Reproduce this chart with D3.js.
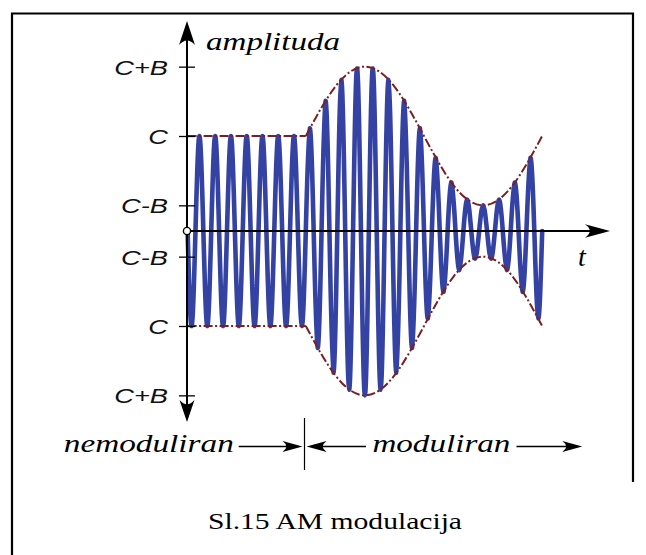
<!DOCTYPE html>
<html>
<head>
<meta charset="utf-8">
<script src="https://cdn.jsdelivr.net/npm/d3@7"></script>
<style>
	body { margin: 0; background: #fff; }
	svg { display: block; }
</style>
</head>
<body>
<svg id="chart"></svg>
<script>
// amplitude levels: C = carrier amplitude, B = modulation depth
const C = 1;
const B = 0.73;
const tickValues = [C + B, C, C - B, -(C - B), -C, -(C + B)];
const tickLabels = ['C+B', 'C', 'C-B', 'C-B', 'C', 'C+B'];

// carrier: 22.5 periods, one amplitude per half period (starts with a trough)
const carrierPeriods = 22.5;
const halfWaveAmp = [
	1, 1, 1, 1, 1, 1, 1, 1, 1, 1, 1, 1, 1, 1, 1,
	1.08, 1.23, 1.37, 1.49, 1.59, 1.67, 1.71, 1.73, 1.71, 1.67, 1.59, 1.49, 1.37, 1.23, 1.08,
	0.92, 0.77, 0.64, 0.51, 0.41, 0.33, 0.29, 0.27, 0.29, 0.33, 0.41, 0.51, 0.64, 0.77, 0.92
];

// envelope (time in carrier periods, amplitude)
const envT = [0, 7.5, 9.375, 11.25, 13.125, 15, 16.875, 18.75, 20.625, 22.5];
const envA = [1, 1, 1.52, 1.73, 1.52, 1, 0.48, 0.27, 0.48, 1];

const yTitle = 'amplituda';
const xTitle = 't';
const sectionLabels = ['nemoduliran', 'moduliran'];
const caption = 'Sl.15 AM modulacija';

function makeChart() {
	let w = 646;
	let h = 555;

	let chart = d3.select('#chart')
		.attr('width', w)
		.attr('height', h);

	let x = d3.scaleLinear()
		.domain([0, carrierPeriods])
		.range([187.6, 542.2]);
	let y = d3.scaleLinear()
		.domain([-1, 1])
		.range([326, 136]);

	let axisX = 187;
	let axisY = y(0);
	let serif = '"Liberation Serif", "Times New Roman", serif';

	// frame
	chart.append('path')
		.attr('d', 'M12,555 V13.5 H633 V482')
		.attr('fill', 'none')
		.attr('stroke', '#000')
		.attr('stroke-width', 2.2);

	function arrowHead(px, py, angle, len, wid) {
		chart.append('path')
			.attr('d', `M0,0 L${-len},${-wid} Q${-0.62 * len},0 ${-len},${wid} Z`)
			.attr('transform', `translate(${px},${py}) rotate(${angle})`)
			.attr('fill', '#000');
	}

	// carrier
	let pts = [[0, 0]];
	halfWaveAmp.forEach((a, k) => {
		let sign = (k % 2 === 0) ? -1 : 1;
		pts.push([0.25 + 0.5 * k, sign * a]);
		pts.push([0.5 + 0.5 * k, 0]);
	});

	let carrierLine = d3.line()
		.x(d => x(d[0]))
		.y(d => y(d[1]))
		.curve(d3.curveNatural);

	chart.append('path')
		.attr('d', carrierLine(pts))
		.attr('fill', 'none')
		.attr('stroke', '#3443a3')
		.attr('stroke-width', 4.6)
		.attr('stroke-linejoin', 'round')
		.attr('stroke-linecap', 'round');

	// envelope, flat part then modulated part
	let envPts = envT.map((t, i) => [t, envA[i]]);
	let flat = envPts.slice(0, 2);
	let modded = envPts.slice(1);

	[1, -1].forEach(s => {
		let flatLine = d3.line().x(d => x(d[0])).y(d => y(s * d[1]));
		let modLine = d3.line().x(d => x(d[0])).y(d => y(s * d[1])).curve(d3.curveNatural);
		[flatLine(flat), modLine(modded)].forEach(dd => {
			chart.append('path')
				.attr('d', dd)
				.attr('fill', 'none')
				.attr('stroke', '#7d1f1f')
				.attr('stroke-width', 2)
				.attr('stroke-dasharray', '9,2.5,2,2.5');
		});
	});

	// axes
	chart.append('line')
		.attr('x1', axisX).attr('y1', axisY)
		.attr('x2', 600).attr('y2', axisY)
		.attr('stroke', '#000')
		.attr('stroke-width', 2);
	arrowHead(610, axisY, 0, 25, 6.7);

	chart.append('line')
		.attr('x1', axisX).attr('y1', 412)
		.attr('x2', axisX).attr('y2', 32)
		.attr('stroke', '#000')
		.attr('stroke-width', 2);
	arrowHead(axisX, 21, -90, 24, 8);
	arrowHead(axisX, 422, 90, 22, 7.5);

	let yAxis = d3.axisLeft(y)
		.tickValues(tickValues)
		.tickSize(8)
		.tickFormat((d, i) => tickLabels[i]);

	let ag = chart.append('g')
		.attr('transform', `translate(${axisX},0)`)
		.call(yAxis);
	ag.select('.domain').remove();
	ag.selectAll('.tick line')
		.attr('x1', 8)
		.attr('stroke', '#000')
		.attr('stroke-width', 1.3);
	ag.selectAll('.tick text')
		.attr('x', null)
		.attr('dy', '0.36em')
		.attr('transform', 'translate(-19,0) scale(1.33,1)')
		.attr('fill', '#111')
		.style('font-family', '"Liberation Sans", Arial, sans-serif')
		.style('font-style', 'italic')
		.style('font-size', '20.5px');

	chart.append('circle')
		.attr('cx', axisX)
		.attr('cy', axisY)
		.attr('r', 3.6)
		.attr('fill', '#fff')
		.attr('stroke', '#000')
		.attr('stroke-width', 1.4);

	// titles
	chart.append('text')
		.attr('x', 206).attr('y', 49.5)
		.attr('textLength', 134).attr('lengthAdjust', 'spacingAndGlyphs')
		.style('font-family', serif).style('font-style', 'italic').style('font-size', '26px')
		.text(yTitle);

	chart.append('text')
		.attr('x', 578).attr('y', 266)
		.style('font-family', serif).style('font-style', 'italic').style('font-size', '28px')
		.text(xTitle);

	// section labels
	let ly = 446.5;
	chart.append('text')
		.attr('x', 63.8).attr('y', 451.7)
		.attr('textLength', 170).attr('lengthAdjust', 'spacingAndGlyphs')
		.style('font-family', serif).style('font-style', 'italic').style('font-size', '26px')
		.text(sectionLabels[0]);
	chart.append('text')
		.attr('x', 372.4).attr('y', 451.7)
		.attr('textLength', 138).attr('lengthAdjust', 'spacingAndGlyphs')
		.style('font-family', serif).style('font-style', 'italic').style('font-size', '26px')
		.text(sectionLabels[1]);

	[[238.7, 296], [366, 313], [516.5, 576]].forEach(seg => {
		chart.append('line')
			.attr('x1', seg[0]).attr('y1', ly)
			.attr('x2', seg[1]).attr('y2', ly)
			.attr('stroke', '#000')
			.attr('stroke-width', 1.4);
	});
	arrowHead(302.5, ly, 0, 20, 5.5);
	arrowHead(306.6, ly, 180, 20, 5.5);
	arrowHead(582.3, ly, 0, 20, 5.5);

	chart.append('line')
		.attr('x1', 304.5).attr('y1', 418)
		.attr('x2', 304.5).attr('y2', 470)
		.attr('stroke', '#000')
		.attr('stroke-width', 1.2);

	// caption
	chart.append('text')
		.attr('x', 208).attr('y', 529)
		.attr('textLength', 254).attr('lengthAdjust', 'spacingAndGlyphs')
		.style('font-family', serif).style('font-size', '24px')
		.text(caption);
}

window.onload = function () {
	makeChart();
}
</script>
</body>
</html>
